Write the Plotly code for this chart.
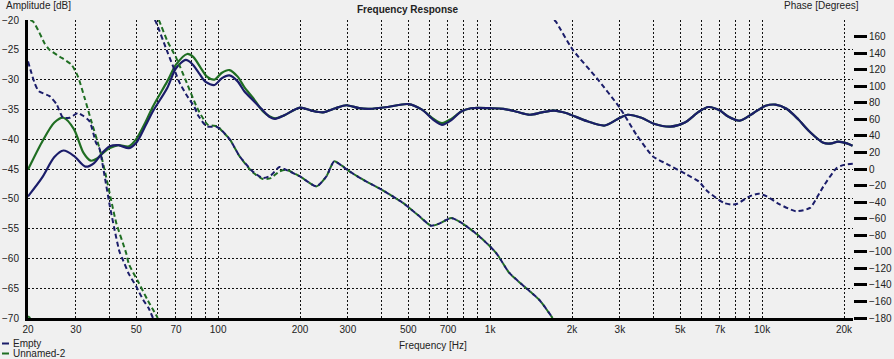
import math
import plotly.graph_objects as go

# ---------------- data ----------------
empty_freq = [20, 22.5, 25, 27, 29.5, 32.5, 35, 37.5, 40, 43, 47, 50, 54, 57.6, 65, 70, 76, 80, 85, 90,
              97, 103, 110, 118, 125, 134, 145, 155, 162, 175, 200, 220, 243, 270, 296, 330, 360, 420, 500, 560,
              620, 665, 720, 780, 850, 1000, 1120, 1250, 1400, 1550, 1720, 1900, 2280, 2640, 3000, 3200, 3600, 4000, 4600, 5200,
              5850, 6350, 7000, 7500, 8270, 9300, 10300, 11200, 12300, 13600, 15000, 16800, 18000, 19000, 20500, 21500]
empty_amp = [-49.6, -46.5, -43.0, -41.9, -42.8, -44.6, -44.0, -42.3, -41.2, -41.0, -41.5, -40.6, -37.8, -35.3, -31.4, -28.1, -26.7, -27.3, -28.9, -30.4,
             -30.9, -29.8, -29.3, -30.3, -32.0, -33.4, -35.0, -36.3, -36.6, -36.0, -34.7, -35.2, -35.5, -34.8, -34.3, -34.8, -34.9, -34.6, -34.1, -35.0,
             -36.8, -37.6, -36.8, -35.4, -34.8, -34.8, -34.9, -35.4, -35.9, -35.5, -35.2, -35.6, -37.0, -37.7, -36.4, -35.9, -36.4, -37.4, -37.9, -37.2,
             -35.4, -34.6, -35.2, -36.2, -36.9, -35.6, -34.4, -34.2, -34.9, -36.7, -38.8, -40.6, -40.7, -40.4, -40.7, -41.1]

unnamed_freq = [20, 22.5, 25, 27, 29.5, 32, 34, 36, 38, 40, 43, 47, 50, 54, 57.6, 65, 70, 77, 81, 86.5,
                91, 97, 103, 110, 118, 125, 134, 146, 155, 162, 175, 200, 220, 243, 270, 296, 330, 360, 420, 500, 560,
                620, 665, 720, 780, 850, 1000, 1120, 1250, 1400, 1550, 1720, 1900, 2280, 2640, 3000, 3200, 3600, 4000, 4600, 5200,
                5850, 6350, 7000, 7500, 8270, 9300, 10300, 11200, 12300, 13600, 15000, 16800, 18000, 19000, 20500, 21500]
unnamed_amp = [-45.1, -40.5, -37.2, -36.4, -38.3, -42.3, -43.6, -43.2, -42.2, -41.5, -41.0, -41.2, -40.0, -37.2, -34.5, -30.3, -27.5, -25.7, -26.2, -28.1,
               -29.5, -30.0, -28.9, -28.4, -29.5, -31.3, -33.0, -35.3, -36.2, -36.5, -36.0, -34.7, -35.2, -35.5, -34.8, -34.3, -34.8, -34.9, -34.6, -34.1, -35.0,
               -36.6, -37.3, -36.6, -35.4, -34.8, -34.8, -34.9, -35.4, -35.9, -35.5, -35.2, -35.6, -37.0, -37.7, -36.4, -35.9, -36.4, -37.4, -37.9, -37.2,
               -35.4, -34.6, -35.2, -36.2, -36.9, -35.6, -34.4, -34.2, -34.9, -36.7, -38.8, -40.6, -40.7, -40.4, -40.7, -41.1]

# phase in degrees, wrapped to [-180, 180]; None marks a wrap
empty_phase_freq = [20, 20.5, 21.2, 21.9, 24.0, 25.5, 26.9, 28.5, 30.5, 32, 33.7, 35.6, 36.6, 38, 40, 41.6, 43.4, 44.7, 47, 50, 53, 55.5, 57.6,
                    None,
                    58.5, 59, 65, 70, 72, 76.3, 81.8, 84, 90.7, 98.6, 102, 110.6, 120, 134, 146, 156, 168, 175, 200, 230, 250, 267, 285, 304,
                    350, 390, 478, 540, 607, 650, 719, 793, 913, 1053, 1177, 1354, 1515, 1697,
                    None,
                    1720, 1745, 2013, 2463, 3000, 3450, 3970, 4470, 5300, 5850, 6300, 7240, 7760, 8100, 9000, 9700, 10400, 11500,
                    13300, 15000, 16000, 16800, 18800, 20000, 21700]
empty_phase = [130, 118, 103, 94, 88, 78, 62, 62, 67.6, 64, 57.5, 31.4, 25, -3, -45, -73, -100, -110, -127, -142, -158, -168, -180,
               None,
               180, 178, 142, 115, 105, 90, 75, 66, 51.5, 51, 48, 35.4, 15.2, -2.9, -10.9, -8, 2.4, 0, -9, -21, -9, 9.2, 4, -2.9,
               -15, -23, -41, -55, -68.5, -66, -59.2, -66, -81.4, -101.5, -125.6, -143.7, -157.9, -180,
               None,
               180, 178, 144, 110, 73.7, 41.4, 15.2, 6, -7, -15, -27, -41, -43, -42, -33, -29.8, -33, -42,
               -51, -47, -33, -21, 1.2, 5, 6.4]

unnamed_phase_freq = [20, 20.4,
                      None,
                      20.4, 20.9, 22, 23, 24, 26.1, 28.9, 30.5, 32.3, 34.2, 36.6, 38.6, 41, 42.2, 45.9, 47, 50.6, 55, 60,
                      None,
                      60.5, 60.9, 65, 70.2, 76.3, 83.8, 91.6, 99.8, 102, 110.6, 120, 134, 146, 156, 168, 178, 200, 230, 250, 267, 285, 304,
                      350, 390, 478, 540, 607, 650, 719, 793, 913, 1053, 1177, 1354, 1515, 1697]
unnamed_phase = [-178, -180,
                 None,
                 180, 178, 165, 152, 144, 136, 126, 112, 85.8, 57.5, 25.4, -7, -47, -65, -101.5, -115, -135, -158, -180,
                 None,
                 180, 178, 155, 134, 105.8, 73.7, 53.5, 51.5, 48, 35.4, 15.2, -4, -12, -11, -3, -1, -9, -21, -9, 9.2, 4, -2.9,
                 -15, -23, -41, -55, -68.5, -66, -59.2, -66, -81.4, -101.5, -125.6, -143.7, -157.9, -180]

x_tick_vals = [20, 30, 50, 70, 100, 200, 300, 500, 700, 1000, 2000, 3000, 5000, 7000, 10000, 20000]
x_tick_text = ["20", "30", "50", "70", "100", "200", "300", "500", "700", "1k", "2k", "3k", "5k", "7k", "10k", "20k"]
x_grid_vals = [30, 40, 50, 60, 70, 80, 90, 100, 200, 300, 400, 500, 600, 700, 800, 900,
               1000, 2000, 3000, 4000, 5000, 6000, 7000, 8000, 9000, 10000, 20000]
amp_ticks = [-70, -65, -60, -55, -50, -45, -40, -35, -30, -25, -20]
phase_ticks = list(range(-180, 161, 20))

# ---------------- styling ----------------
NAVY = "#1b1d6a"
GREEN = "#1f6e22"
BG = "#f0f0f0"
FONT = "Liberation Sans"
TXT = "#222222"

W, H = 894, 359
L, R, T, B = 28, 41, 20, 41
PW, PH = W - L - R, H - T - B


def px_x(px):
    return (px - L) / PW


def px_y(py):
    return (H - B - py) / PH


fig = go.Figure()

fig.add_trace(go.Scatter(x=unnamed_freq, y=unnamed_amp, mode="lines", name="Unnamed-2",
                         line=dict(color=GREEN, width=2.2, shape="spline", smoothing=0.8), showlegend=False))
fig.add_trace(go.Scatter(x=unnamed_phase_freq, y=unnamed_phase, mode="lines", yaxis="y2", name="Unnamed-2 phase",
                         line=dict(color=GREEN, width=2, dash="5px,3px", shape="spline", smoothing=0.6),
                         connectgaps=False, showlegend=False))
fig.add_trace(go.Scatter(x=empty_freq, y=empty_amp, mode="lines", name="Empty",
                         line=dict(color=NAVY, width=2.2, shape="spline", smoothing=0.8), showlegend=False))
fig.add_trace(go.Scatter(x=empty_phase_freq, y=empty_phase, mode="lines", yaxis="y2", name="Empty phase",
                         line=dict(color=NAVY, width=2, dash="5px,3px", shape="spline", smoothing=0.6),
                         connectgaps=False, showlegend=False))

x_lo = math.log10(20)
x_hi = x_lo + PW / 272.0

fig.update_layout(
    width=W, height=H,
    margin=dict(l=L, r=R, t=T, b=B, pad=0, autoexpand=False),
    paper_bgcolor=BG, plot_bgcolor=BG,
    font=dict(family=FONT, size=10, color=TXT),
    showlegend=False,
    xaxis=dict(
        type="log", range=[x_lo, x_hi], automargin=False,
        tickmode="array", tickvals=x_tick_vals, ticktext=x_tick_text,
        showgrid=True, gridcolor="#111111", gridwidth=1, griddash="2px,2px",
        minor=dict(tickmode="array", tickvals=x_grid_vals, showgrid=True,
                   gridcolor="#111111", gridwidth=1, griddash="2px,2px", ticks=""),
        showline=True, linecolor="black", linewidth=3,
        ticks="", zeroline=False, tickfont=dict(size=10, color=TXT),
    ),
    yaxis=dict(
        range=[-70, -20], tickmode="array", tickvals=amp_ticks, automargin=False,
        showgrid=True, gridcolor="#111111", gridwidth=1, griddash="2px,2px",
        showline=True, linecolor="black", linewidth=3,
        ticks="", zeroline=False, tickfont=dict(size=10, color=TXT),
        ticklabelstandoff=4,
    ),
    yaxis2=dict(
        range=[-180, 180], overlaying="y", side="right", anchor="x", automargin=False,
        tickmode="array", tickvals=phase_ticks,
        showgrid=False, zeroline=False, showline=False,
        ticks="outside", ticklen=13, tickwidth=2.5, tickcolor="black",
        tickfont=dict(size=10, color=TXT),
    ),
)

annos = [
    dict(text="<b>Frequency Response</b>", x=px_x(408), y=px_y(10), xanchor="center", yanchor="middle",
         font=dict(size=10, color=TXT)),
    dict(text="Amplitude [dB]", x=px_x(4), y=px_y(6), xanchor="left", yanchor="middle"),
    dict(text="Phase [Degrees]", x=px_x(861), y=px_y(6), xanchor="right", yanchor="middle"),
    dict(text="Frequency [Hz]", x=px_x(433), y=px_y(345), xanchor="center", yanchor="middle"),
    dict(text="Empty", x=px_x(11), y=px_y(343), xanchor="left", yanchor="middle"),
    dict(text="Unnamed-2", x=px_x(11), y=px_y(353), xanchor="left", yanchor="middle"),
]
for a in annos:
    a.update(xref="paper", yref="paper", showarrow=False)
    a.setdefault("font", dict(size=10, color=TXT))
    fig.add_annotation(**a)

for yy, col in [(343.5, NAVY), (353.5, GREEN)]:
    fig.add_shape(type="line", xref="paper", yref="paper",
                  x0=px_x(2), x1=px_x(9), y0=px_y(yy), y1=px_y(yy),
                  line=dict(color=col, width=2))

fig.write_html("out.html", config={"displayModeBar": False},
               post_script="document.body.style.margin='0px';document.body.style.background='#f0f0f0';")
